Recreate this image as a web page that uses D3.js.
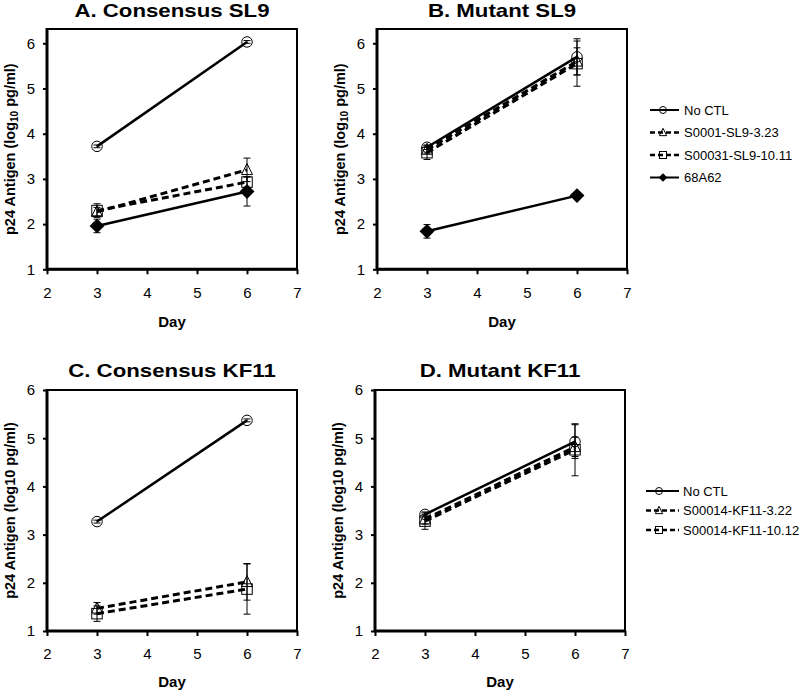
<!DOCTYPE html>
<html><head><meta charset="utf-8">
<script src="https://cdn.jsdelivr.net/npm/d3@7"></script>
<style>
html,body{margin:0;padding:0;background:#fff;}
svg text{font-family:"Liberation Sans",Arial,sans-serif;fill:#000;}
</style></head>
<body>
<svg id="chart" width="800" height="692"></svg>
<script>
// ---------- data ----------
const days = [3, 6];
const xTicks = [2, 3, 4, 5, 6, 7];
const yTicks = [1, 2, 3, 4, 5, 6];

const titles = ["A. Consensus SL9", "B. Mutant SL9", "C. Consensus KF11", "D. Mutant KF11"];
const xLabel = "Day";

const namesSL9 = ["No CTL", "S0001-SL9-3.23", "S00031-SL9-10.11", "68A62"];
const namesKF11 = ["No CTL", "S00014-KF11-3.22", "S00014-KF11-10.12"];

// Panel A: Consensus SL9
const aNoCTL = [3.72, 6.03];   const aNoCTLErr = [0.03, 0.03];
const aS0001 = [2.27, 3.20];   const aS0001Err = [0.10, 0.26];
const aS00031 = [2.30, 2.93];  const aS00031Err = [0.15, 0.12];
const a68A62 = [1.96, 2.72];   const a68A62Err = [0.15, 0.32];

// Panel B: Mutant SL9
const bNoCTL = [3.70, 5.70];   const bNoCTLErr = [0.05, 0.40];
const bS0001 = [3.65, 5.60];   const bS0001Err = [0.08, 0.30];
const bS00031 = [3.58, 5.55];  const bS00031Err = [0.15, 0.50];
const b68A62 = [1.84, 2.63];   const b68A62Err = [0.15, 0.05];

// Panel C: Consensus KF11
const cNoCTL = [3.27, 5.37];   const cNoCTLErr = [0.03, 0.03];
const cS322 = [1.47, 2.02];    const cS322Err = [0.12, 0.38];
const cS1012 = [1.36, 1.87];   const cS1012Err = [0.16, 0.52];

// Panel D: Mutant KF11
const dNoCTL = [3.42, 4.93];   const dNoCTLErr = [0.05, 0.35];
const dS322 = [3.32, 4.82];    const dS322Err = [0.10, 0.20];
const dS1012 = [3.28, 4.76];   const dS1012Err = [0.17, 0.54];

// series styles: marker type and dashed flag
const stylesSL9 = [
  {marker: "circle", dashed: false},
  {marker: "triangle", dashed: true},
  {marker: "square", dashed: true},
  {marker: "diamond", dashed: false}
];
const stylesKF11 = stylesSL9.slice(0, 3);

const panels = [
  {title: titles[0], sub: true, names: namesSL9, styles: stylesSL9,
   values: [aNoCTL, aS0001, aS00031, a68A62], errs: [aNoCTLErr, aS0001Err, aS00031Err, a68A62Err],
   x0: 47, x1: 297, yTop: 29, y6: 43.3, y1: 269.3, titleY: 17, yLabX: 15, dayY: 327, xPad: 13},
  {title: titles[1], sub: true, names: namesSL9, styles: stylesSL9,
   values: [bNoCTL, bS0001, bS00031, b68A62], errs: [bNoCTLErr, bS0001Err, bS00031Err, b68A62Err],
   x0: 377, x1: 627, yTop: 29, y6: 43.3, y1: 269.3, titleY: 17, yLabX: 345, dayY: 327, xPad: 13,
   legend: {x0: 650, x1: 679, tx: 684, ys: [110, 132.5, 155, 177.5]}},
  {title: titles[2], sub: false, names: namesKF11, styles: stylesKF11,
   values: [cNoCTL, cS322, cS1012], errs: [cNoCTLErr, cS322Err, cS1012Err],
   x0: 47, x1: 297, yTop: 390, y6: 390, y1: 631, titleY: 377, yLabX: 15, dayY: 687, xPad: 12},
  {title: titles[3], sub: false, names: namesKF11, styles: stylesKF11,
   values: [dNoCTL, dS322, dS1012], errs: [dNoCTLErr, dS322Err, dS1012Err],
   x0: 375, x1: 625, yTop: 390, y6: 390, y1: 631, titleY: 377, yLabX: 343, dayY: 687, xPad: 12,
   legend: {x0: 646, x1: 679, tx: 683, ys: [491, 510.5, 530]}}
];

const svg = d3.select("#chart");

function drawMarker(g, type, cx, cy, s) {
  if (type === "circle") {
    g.append("circle").attr("cx", cx).attr("cy", cy).attr("r", s * 0.5)
      .attr("fill", "none").attr("stroke", "#000").attr("stroke-width", 1);
  } else if (type === "triangle") {
    const h = s * 1.0, w = s * 1.05;
    g.append("path").attr("d", `M${cx},${cy - h * 0.6}L${cx + w / 2},${cy + h * 0.45}L${cx - w / 2},${cy + h * 0.45}Z`)
      .attr("fill", "none").attr("stroke", "#000").attr("stroke-width", 1);
  } else if (type === "square") {
    g.append("rect").attr("x", cx - s / 2).attr("y", cy - s / 2).attr("width", s).attr("height", s)
      .attr("fill", "none").attr("stroke", "#000").attr("stroke-width", 1);
  } else if (type === "diamond") {
    const r = s * 0.62;
    g.append("path").attr("d", `M${cx},${cy - r}L${cx + r},${cy}L${cx},${cy + r}L${cx - r},${cy}Z`)
      .attr("fill", "#000");
  }
}

panels.forEach(p => {
  const g = svg.append("g");
  const x = d3.scaleLinear().domain([2, 7]).range([p.x0, p.x1]);
  const y = d3.scaleLinear().domain([1, 6]).range([p.y1, p.y6]);

  // title (slightly wide bold face as in reference)
  const t = g.append("text").attr("x", (p.x0 + p.x1) / 2).attr("y", p.titleY)
    .attr("text-anchor", "middle").attr("font-weight", "bold").attr("font-size", 19)
    .text(p.title);
  const tw = t.node().getComputedTextLength();
  t.attr("textLength", tw * 1.17).attr("lengthAdjust", "spacingAndGlyphs");

  // axes
  const ya = g.append("g").attr("transform", `translate(${p.x0},0)`)
    .call(d3.axisLeft(y).tickValues(yTicks).tickFormat(d3.format("d")).tickSize(4).tickSizeOuter(0).tickPadding(8));
  const xa = g.append("g").attr("transform", `translate(0,${p.y1})`)
    .call(d3.axisBottom(x).tickValues(xTicks).tickFormat(d3.format("d")).tickSize(5).tickSizeOuter(0).tickPadding(p.xPad));
  [ya, xa].forEach(a => {
    a.select(".domain").remove();
    a.selectAll(".tick line").attr("stroke", "#000").attr("stroke-width", 2);
    a.selectAll(".tick text").attr("font-size", 15).attr("font-family", "Liberation Sans, Arial, sans-serif");
  });

  // frame
  g.append("rect").attr("x", p.x0).attr("y", p.yTop).attr("width", p.x1 - p.x0).attr("height", p.y1 - p.yTop)
    .attr("fill", "none").attr("stroke", "#000").attr("stroke-width", 2);
  g.append("line").attr("x1", p.x0).attr("x2", p.x0).attr("y1", p.yTop - 1).attr("y2", p.y1 + 1)
    .attr("stroke", "#000").attr("stroke-width", 3);
  g.append("line").attr("x1", p.x0 - 1).attr("x2", p.x1 + 1).attr("y1", p.y1).attr("y2", p.y1)
    .attr("stroke", "#000").attr("stroke-width", 3);

  // y label
  const yl = g.append("text").attr("transform", `translate(${p.yLabX},${(p.yTop + p.y1) / 2}) rotate(-90)`)
    .attr("text-anchor", "middle").attr("font-weight", "bold").attr("font-size", 14.5);
  if (p.sub) {
    yl.append("tspan").text("p24 Antigen (log");
    yl.append("tspan").attr("font-size", 10).attr("dy", 3).text("10");
    yl.append("tspan").attr("dy", -3).text(" pg/ml)");
  } else {
    yl.text("p24 Antigen (log10 pg/ml)");
  }

  // x label
  g.append("text").attr("x", (p.x0 + p.x1) / 2).attr("y", p.dayY)
    .attr("text-anchor", "middle").attr("font-weight", "bold").attr("font-size", 15).text(xLabel);

  const line = d3.line().x((d, i) => x(days[i])).y(d => y(d));

  // error bars
  p.values.forEach((vals, si) => {
    vals.forEach((v, i) => {
      const e = p.errs[si][i];
      const cx = x(days[i]);
      const eb = g.append("g").attr("stroke", "#000").attr("stroke-width", 1);
      eb.append("line").attr("x1", cx).attr("x2", cx).attr("y1", y(v - e)).attr("y2", y(v + e));
      eb.append("line").attr("x1", cx - 3.5).attr("x2", cx + 3.5).attr("y1", y(v - e)).attr("y2", y(v - e));
      eb.append("line").attr("x1", cx - 3.5).attr("x2", cx + 3.5).attr("y1", y(v + e)).attr("y2", y(v + e));
    });
  });

  // lines
  p.values.forEach((vals, si) => {
    const st = p.styles[si];
    g.append("path").attr("d", line(vals)).attr("fill", "none").attr("stroke", "#000")
      .attr("stroke-width", st.dashed ? 3 : 2.5)
      .attr("stroke-dasharray", st.dashed ? "7,4" : null);
  });

  // markers
  p.values.forEach((vals, si) => {
    const st = p.styles[si];
    vals.forEach((v, i) => drawMarker(g, st.marker, x(days[i]), y(v), st.marker === "diamond" ? 12 : 10.5));
  });

  // legend
  if (p.legend) {
    const L = p.legend;
    p.names.forEach((n, si) => {
      const st = p.styles[si];
      const ly = L.ys[si];
      g.append("line").attr("x1", L.x0).attr("x2", L.x1).attr("y1", ly).attr("y2", ly)
        .attr("stroke", "#000").attr("stroke-width", st.dashed ? 2.5 : 2)
        .attr("stroke-dasharray", st.dashed ? "5,3" : null);
      drawMarker(g, st.marker, L.x0 + 13, ly, 7);
      g.append("text").attr("x", L.tx).attr("y", ly + 4.5).attr("font-size", 13).text(n);
    });
  }
});
</script>
</body></html>
